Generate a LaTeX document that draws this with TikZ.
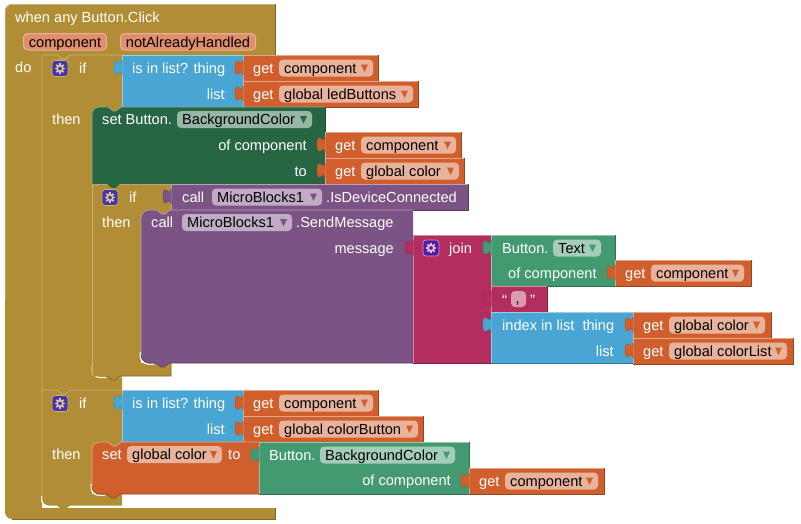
\documentclass[tikz,border=0pt]{standalone}
\usepackage{fontspec}
\setmainfont{Liberation Sans}
\definecolor{bgold}{HTML}{B18E35}
\definecolor{bgoldlt}{HTML}{C9B27A}
\definecolor{bblue}{HTML}{49A6D4}
\definecolor{borange}{HTML}{D05F2D}
\definecolor{bdkgreen}{HTML}{266643}
\definecolor{bgreen}{HTML}{439970}
\definecolor{bpurple}{HTML}{7C5385}
\definecolor{bmagenta}{HTML}{B32D5E}
\definecolor{bgear}{HTML}{4B35A2}
\definecolor{bgearj}{HTML}{4E1DAA}
\definecolor{bparam}{HTML}{E28E6C}
\definecolor{bparamlt}{HTML}{E9B39B}

% value block: colour, x1, y1, x2, y2
\newcommand{\valblock}[5]{
  \fill[#1] (#2,#3) rectangle (#4,#5);
  \draw[edge, #1!55!white] (#2,#5) -- (#2,#3) -- (#4,#3);
  \draw[edge, #1!72!black] (#2,#5) -- (#4,#5) -- (#4,#3);
}
% output tab on the left edge: colour, x, y of the block's top
\newcommand{\outtab}[3]{
  \fill[#1] (#2+.6,#3+5) -- (#2,#3+5) .. controls (#2,#3+15) and (#2-8,#3-3) .. (#2-8,#3+12.5)
    .. controls (#2-8,#3+28) and (#2,#3+10) .. (#2,#3+20) -- (#2+.6,#3+20) -- cycle;
  \draw[line width=.5pt, #1!88!black] (#2,#3+5) .. controls (#2,#3+15) and (#2-8,#3-3) .. (#2-8,#3+12.5)
    .. controls (#2-8,#3+28) and (#2,#3+10) .. (#2,#3+20);
}
% dropdown field: name, colour, x1, x2, row centre, text
\newcommand{\ddfield}[6]{
  \fill[#2!48!white, rounded corners=4pt] (#3,#5-8.5) rectangle (#4,#5+8.5);
  \node[fldtxt] (#1) at (#3+5,#5+5) {#6};
  \fill[#2] (#4-12,#5-3.5) -- (#4-5,#5-3.5) -- (#4-8.5,#5+4) -- cycle;
}
% get block: name, x of left edge, top, right edge, field right edge, text
\newcommand{\getblock}[6]{
  \valblock{borange}{#2}{#3}{#4}{#3+26}
  \outtab{borange}{#2}{#3}
  \node[lbl] (#1get) at (#2+10,#3+18) {get};
  \ddfield{#1}{borange}{#2+36}{#5}{#3+13}{#6}
}
% mutator icon: x centre, row centre, fill, rim, wheel
\newcommand{\gearicon}[5]{
  \fill[#3, draw=#4, line width=.7pt, rounded corners=3pt] (#1-8,#2-8) rectangle (#1+8,#2+8);
  \draw[#5, line width=1.7pt] (#1,#2) circle (2.9);
  \foreach \a in {0,45,...,315}
    \draw[#5, line width=1.5pt] ([shift={(\a:3.4)}]#1,#2) -- ([shift={(\a:5.2)}]#1,#2);
}

\begin{document}
\begin{tikzpicture}[
    x=1pt, y=-1pt,
    font=\fontsize{14.6}{17}\selectfont,
    edge/.style={line width=.7pt},
    lbl/.style={text=white, anchor=base west, inner sep=0pt},
    lblr/.style={text=white, anchor=base east, inner sep=0pt},
    fldtxt/.style={text=black, anchor=base west, inner sep=0pt},
    param/.style={text=black, anchor=base, inner sep=0pt},
    parambox/.style={fill=bparam, draw=bparamlt, line width=1pt, rounded corners=4pt},
    quotemark/.style={lbl, font=\fontsize{15}{17}\selectfont},
    goldfill/.style={fill=bgold},
    goldline/.style={draw=bgoldlt, line width=.7pt},
    cornerline/.style={draw=white, line width=1pt},
  ]
  \useasboundingbox (0,0) rectangle (801,523);

  % ===== event block =====
  \fill[goldfill] (275,55) -- (275,4) [rounded corners=7pt] -- (5,4) -- (5,519) [sharp corners]
      -- (275,519) -- (275,508) -- (42,508) -- (42,55) -- cycle;
  \draw[goldline, rounded corners=7pt] (5.3,300) -- (5.3,4.4) -- (275,4.4);
  \draw[edge, bgold!72!black] (275,4) -- (275,55);
  \draw[edge, bgold!72!black] (12,519) -- (275,519) -- (275,508);
  \draw[cornerline] (50,507) -- (275,507);
  \node[lbl] (whenlbl) at (15,22) {when any Button.Click};
  \draw[parambox] (23.5,33.5) rectangle (106.5,50);
  \node[param] (comparg) at (65,47) {component};
  \draw[parambox] (120.5,33.5) rectangle (255.5,50);
  \node[param] (handledarg) at (188,47) {notAlreadyHandled};
  \node[lbl] (dolbl) at (15,72) {do};

  % ===== first if =====
  \fill[goldfill] (42,55) -- (122,55) -- (122,107) -- (121,107) -- (116,111) -- (113,111) -- (108,107)
      -- (100,107) -- (100,115) -- (92,115) -- (92,376) -- (122,376) -- (122,390) -- (42,390) -- cycle;
  \draw[goldline] (42,390) -- (42,55) -- (57,55) -- (62,59) -- (65,59) -- (70,55) -- (122,55);
  \gearicon{60}{68.5}{bgear}{bgoldlt}{bgoldlt!70!white}
  \node[lbl] (iflbl) at (79,73) {if};
  \node[lbl] (thenlbl) at (52,124) {then};
  \draw[cornerline, rounded corners=8pt] (92,366) -- (92,377.5) -- (106,377.5);
  \draw[draw=bgoldlt, line width=.7pt] (106,377.5) -- (122,377.5);

  % is in list? thing
  \valblock{bblue}{122}{55}{243}{107}
  \outtab{bblue}{122}{55}
  \node[lbl] (inlistlbl) at (132,73) {is in list? thing};
  \node[lblr] (inlistlst) at (225,99) {list};
  \getblock{getcompa}{243}{55}{378}{373}{component}
  \getblock{getled}{243}{81}{418}{413}{global ledButtons}

  % ===== nested if =====
  \fill[goldfill] (92,184) -- (171,184) -- (171,210) -- (170,210) -- (165,214) -- (162,214) -- (157,210)
      -- (149,210) -- (149,218) -- (141,218) -- (141,363) -- (171,363) -- (171,376) -- (121,376) -- (120,376)
      -- (115,380) -- (112,380) -- (107,376) -- (92,376) -- cycle;
  \draw[goldline] (92,376) -- (92,184) -- (171,184);
  \draw[edge, bgold!72!black] (171,363) -- (171,376) -- (120,376) -- (115,380) -- (112,380) -- (107,376);
  \gearicon{110}{197.5}{bgear}{bgoldlt}{bgoldlt!70!white}
  \node[lbl] (nestif) at (129,202) {if};
  \node[lbl] (nestthen) at (102,227) {then};

  % ===== set Button.BackgroundColor =====
  \fill[bdkgreen] (325,107) -- (121,107) -- (116,111) -- (113,111) -- (108,107) [rounded corners=7pt] -- (92,107)
      [sharp corners] -- (92,184) -- (107,184) -- (112,188) -- (115,188) -- (120,184) -- (325,184) -- cycle;
  \draw[edge, bdkgreen!55!white] (92,184) [rounded corners=7pt] -- (92,107) [sharp corners] -- (108,107) -- (113,111) -- (116,111) -- (121,107) -- (325,107);
  \draw[edge, bdkgreen!72!black] (325,107) -- (325,184);
  \node[lbl] (setbtn) at (102,124.5) {set Button.};
  \ddfield{setprop}{bdkgreen}{177}{312}{119.5}{BackgroundColor}
  \node[lblr] (ofcompa) at (307,150) {of component};
  \node[lblr] (tolbl) at (307,176) {to};
  \getblock{getcompb}{325}{132}{461}{456}{component}
  \getblock{getcolora}{325}{158}{464}{459}{global color}

  % ===== call .IsDeviceConnected =====
  \valblock{bpurple}{171}{184}{468}{210}
  \outtab{bpurple}{171}{184}
  \node[lbl] (callconn) at (182,202) {call};
  \ddfield{mbconn}{bpurple}{212}{322}{197}{MicroBlocks1}
  \node[lbl] (isconn) at (326,202) {.IsDeviceConnected};

  % ===== call .SendMessage =====
  \fill[bpurple] (413,210) -- (170,210) -- (165,214) -- (162,214) -- (157,210) [rounded corners=8pt] -- (141,210) -- (141,363)
      [sharp corners] -- (156,363) -- (161,367) -- (164,367) -- (169,363) -- (413,363) -- cycle;
  \draw[edge, bpurple!55!white] (141,355) [rounded corners=8pt] -- (141,210) [sharp corners] -- (157,210) -- (162,214) -- (165,214) -- (170,210) -- (413,210);
  \draw[edge, bpurple!72!black] (141,355) [rounded corners=8pt] -- (141,363) [sharp corners] -- (156,363) -- (161,367) -- (164,367) -- (169,363) -- (413,363) -- (413,235);
  \draw[cornerline, rounded corners=9pt] (140,352) -- (140,364.3) -- (154,364.3);
  \node[lbl] (callsend) at (151,227) {call};
  \ddfield{mbsend}{bpurple}{182}{292}{222.5}{MicroBlocks1}
  \node[lbl] (sendmsg) at (296,227.5) {.SendMessage};
  \node[lblr] (msglbl) at (394,253) {message};

  % ===== join =====
  \valblock{bmagenta}{413}{235}{491}{363}
  \outtab{bmagenta}{413}{235}
  \gearicon{431}{248}{bgearj}{bmagenta!50!white}{bmagenta!30!white}
  \node[lbl] (joinlbl) at (449,253) {join};

  \valblock{bgreen}{491}{235}{615}{286}
  \outtab{bgreen}{491}{235}
  \node[lbl] (btntext) at (502,253) {Button.};
  \ddfield{textprop}{bgreen}{553}{601}{248}{Text}
  \node[lbl] (ofcompb) at (508,278) {of component};
  \getblock{getcompc}{615}{260}{751}{744}{component}

  \valblock{bmagenta}{491}{286}{547}{312}
  \outtab{bmagenta}{491}{286}
  \node[quotemark] (openq) at (502,305) {“};
  \fill[bmagenta!48!white, rounded corners=4pt] (511,291) rectangle (526,307);
  \node[fldtxt] (commatxt) at (515.5,303.5) {,};
  \node[quotemark] (closeq) at (530,305) {”};

  \valblock{bblue}{491}{312}{633}{363}
  \outtab{bblue}{491}{312}
  \node[lbl] (indexlbl) at (502,330) {index in list\ \ thing};
  \node[lblr] (indexlst) at (614,356) {list};
  \getblock{getcolorb}{633}{312}{771}{765}{global color}
  \getblock{getcolorl}{633}{338}{793}{787}{global colorList}

  % ===== second if =====
  \fill[goldfill] (42,390) -- (122,390) -- (122,442) -- (121,442) -- (116,446) -- (113,446) -- (108,442)
      -- (100,442) -- (100,450) -- (92,450) -- (92,494) -- (122,494) -- (122,505.5) -- (70,505.5) -- (65,509.5)
      -- (62,509.5) -- (57,505.5) [rounded corners=7pt] -- (42,505.5) [sharp corners] -- cycle;
  \draw[goldline] (42,498) -- (42,390) -- (57,390) -- (62,394) -- (65,394) -- (70,390) -- (122,390);
  \draw[cornerline, rounded corners=7pt] (41.6,496) -- (41.6,506.5) -- (57,506.5);
  \gearicon{60}{403.5}{bgear}{bgoldlt}{bgoldlt!70!white}
  \node[lbl] (secondif) at (79,408) {if};
  \node[lbl] (secondthen) at (52,459) {then};

  \valblock{bblue}{122}{390}{243}{442}
  \outtab{bblue}{122}{390}
  \node[lbl] (inlistb) at (132,408) {is in list? thing};
  \node[lblr] (inlistc) at (225,434) {list};
  \getblock{getcompd}{243}{390}{378}{373}{component}
  \getblock{getcbtn}{243}{416}{423}{418}{global colorButton}

  % ===== set global color =====
  \fill[borange] (259,442) -- (121,442) -- (116,446) -- (113,446) -- (108,442) [rounded corners=7pt] -- (92,442) -- (92,494)
      [sharp corners] -- (107,494) -- (112,498) -- (115,498) -- (120,494) -- (259,494) -- cycle;
  \draw[edge, borange!55!white] (92,486) [rounded corners=7pt] -- (92,442) [sharp corners] -- (108,442) -- (113,446) -- (116,446) -- (121,442) -- (259,442);
  \draw[edge, borange!72!black] (92,486) [rounded corners=7pt] -- (92,494) [sharp corners] -- (107,494) -- (112,498) -- (115,498) -- (120,494) -- (259,494);
  \draw[cornerline, rounded corners=8pt] (91,484) -- (91,495.3) -- (105,495.3);
  \node[lbl] (setglobal) at (102,459.5) {set};
  \ddfield{setvar}{borange}{127}{222}{454.5}{global color}
  \node[lbl] (tolblb) at (228,459.5) {to};

  \valblock{bgreen}{259}{442}{469}{494}
  \outtab{bgreen}{259}{442}
  \node[lbl] (btnbg) at (269,460) {Button.};
  \ddfield{bgprop}{bgreen}{320}{455}{455}{BackgroundColor}
  \node[lblr] (ofcompc) at (451,485) {of component};
  \getblock{getcompe}{469}{468}{604}{598}{component}

\end{tikzpicture}
\end{document}
